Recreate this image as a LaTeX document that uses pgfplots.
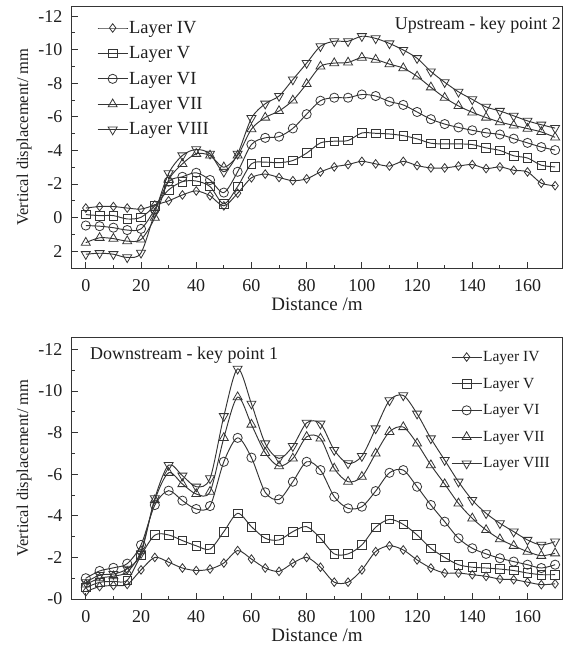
\documentclass[border=0pt]{standalone}
\usepackage{fontspec}
\setmainfont{Liberation Serif}
\usepackage{pgfplots}
\pgfplotsset{compat=1.18}
\definecolor{ln}{HTML}{353535}
\definecolor{tx}{HTML}{1E1E1E}

\pgfplotsset{
  myax/.style={
    scale only axis, width=490pt, height=262pt,
    xmin=-5, xmax=172.5,
    xtick={0,20,...,160}, minor x tick num=1,
    tick pos=left, tick align=inside,
    major tick length=6pt, minor tick length=3pt,
    every tick/.style={ln, line width=0.9pt},
    axis line style={ln, line width=1pt},
    /pgf/number format/assume math mode=true,
    tick label style={font=\fontsize{18}{20}\selectfont, text=tx},
    xticklabel style={yshift=-8pt},
    yticklabel style={xshift=-6pt},
    xlabel style={font=\fontsize{19}{21}\selectfont, text=tx, yshift=1pt},
    ylabel style={font=\fontsize{16.5}{19}\selectfont, text=tx},
    xlabel={Distance /m},
    ylabel={Vertical displacement/ mm},
    y dir=reverse,
    legend cell align=left,
    legend image code/.code={\draw[mark repeat=2,mark phase=2] plot coordinates {(0pt,0pt) (15pt,0pt) (30pt,0pt)};},
    every axis plot/.append style={ln, line width=0.95pt, smooth, tension=0.5},
  },
  mIV/.style={mark=diamond, mark size=4.3pt, mark options={solid, line width=0.8pt}},
  mV/.style={mark=square, mark size=4.3pt, mark options={solid, line width=0.8pt}},
  mVI/.style={mark=o, mark size=4.6pt, mark options={solid, line width=0.8pt}},
  mVII/.style={mark=triangle, mark size=5.2pt, mark options={solid, line width=0.8pt}},
  mVIII/.style={mark=triangle, mark size=5.2pt, mark options={solid, line width=0.8pt, rotate=180}},
}

\begin{document}
\begin{tikzpicture}
\path[use as bounding box] (-72pt,6pt) rectangle (496pt,-646pt);

% ---------------- Upstream (top)
\begin{axis}[myax, at={(0pt,0pt)}, anchor=north west,
  ymin=-12.6, ymax=3,
  ytick={-12,-10,-8,-6,-4,-2,0,2},
  yticklabels={-12,-10,-8,-6,-4,-2,0,2},
  minor y tick num=1,
  legend style={draw=none, fill=none, font=\fontsize{18.5}{20}\selectfont, text=tx,
      inner xsep=0pt, inner ysep=0pt, row sep=9.8pt, nodes={inner sep=1pt},
      at={(rel axis cs:0,1)}, anchor=north west, xshift=25pt, yshift=-14pt},
]
\addplot[mIV] coordinates {(0,-0.57)(5,-0.66)(10,-0.66)(15,-0.57)(20,-0.51)(25,-0.75)(30,-1.0)(35,-1.35)(40,-1.59)(45,-1.3)(50,-0.7)(55,-1.45)(60,-2.37)(65,-2.59)(70,-2.39)(75,-2.2)(80,-2.31)(85,-2.72)(90,-3.02)(95,-3.16)(100,-3.35)(105,-3.2)(110,-3.07)(115,-3.35)(120,-3.1)(125,-2.96)(130,-2.96)(135,-3.07)(140,-3.16)(145,-2.92)(150,-3.02)(155,-2.82)(160,-2.72)(165,-2.05)(170,-1.9)};
\addlegendentry{Layer IV}
\addplot[mV] coordinates {(0,-0.18)(5,-0.12)(10,-0.12)(15,0.08)(20,-0.02)(25,-0.7)(30,-1.65)(35,-2.14)(40,-2.18)(45,-1.85)(50,-0.82)(55,-1.85)(60,-3.2)(65,-3.3)(70,-3.27)(75,-3.4)(80,-3.84)(85,-4.45)(90,-4.55)(95,-4.59)(100,-5.04)(105,-5.02)(110,-4.98)(115,-4.88)(120,-4.69)(125,-4.43)(130,-4.39)(135,-4.39)(140,-4.35)(145,-4.15)(150,-4.0)(155,-3.68)(160,-3.55)(165,-3.12)(170,-3.02)};
\addlegendentry{Layer V}
\addplot[mVI] coordinates {(0,0.47)(5,0.51)(10,0.6)(15,0.74)(20,0.67)(25,-0.5)(30,-2.14)(35,-2.43)(40,-2.67)(45,-2.24)(50,-1.49)(55,-2.73)(60,-4.35)(65,-4.75)(70,-4.82)(75,-5.31)(80,-6.16)(85,-6.96)(90,-7.14)(95,-7.14)(100,-7.33)(105,-7.24)(110,-6.91)(115,-6.71)(120,-6.29)(125,-5.86)(130,-5.57)(135,-5.37)(140,-5.2)(145,-5.05)(150,-4.95)(155,-4.7)(160,-4.45)(165,-4.2)(170,-4.02)};
\addlegendentry{Layer VI}
\addplot[mVII] coordinates {(0,1.49)(5,1.2)(10,1.25)(15,1.4)(20,1.3)(25,0.0)(30,-2.24)(35,-3.2)(40,-3.8)(45,-3.7)(50,-3.0)(55,-3.7)(60,-5.27)(65,-5.96)(70,-6.35)(75,-6.98)(80,-7.96)(85,-9.0)(90,-9.2)(95,-9.24)(100,-9.53)(105,-9.41)(110,-9.14)(115,-8.9)(120,-8.41)(125,-7.76)(130,-7.14)(135,-6.65)(140,-6.27)(145,-5.96)(150,-5.69)(155,-5.49)(160,-5.3)(165,-5.1)(170,-4.78)};
\addlegendentry{Layer VII}
\addplot[mVIII] coordinates {(0,2.18)(5,2.12)(10,2.18)(15,2.37)(20,2.1)(25,-0.3)(30,-2.63)(35,-3.7)(40,-4.06)(45,-3.8)(50,-2.73)(55,-3.8)(60,-5.92)(65,-6.78)(70,-7.24)(75,-8.22)(80,-9.2)(85,-10.2)(90,-10.5)(95,-10.5)(100,-10.8)(105,-10.67)(110,-10.37)(115,-9.98)(120,-9.49)(125,-8.7)(130,-8.06)(135,-7.49)(140,-7.04)(145,-6.59)(150,-6.35)(155,-6.06)(160,-5.76)(165,-5.53)(170,-5.33)};
\addlegendentry{Layer VIII}
\node[anchor=east, inner sep=0pt, font=\fontsize{18}{20}\selectfont, text=tx] at (rel axis cs:1,1) [xshift=-1pt, yshift=-19pt] {Upstream - key point 2};
\end{axis}

% ---------------- Downstream (bottom)
\begin{axis}[myax, at={(0pt,-331pt)}, anchor=north west,
  ymin=-12.6, ymax=0,
  ytick={-12,-10,-8,-6,-4,-2,0},
  yticklabels={-12,-10,-8,-6,-4,-2,-0},
  minor y tick num=1,
  legend style={draw=none, fill=none, font=\fontsize{15.5}{17}\selectfont, text=tx,
      inner xsep=0pt, inner ysep=0pt, row sep=13pt, nodes={inner sep=1pt},
      at={(rel axis cs:1,1)}, anchor=north east, xshift=-11pt, yshift=-13pt},
]
\addplot[mIV] coordinates {(0,-0.35)(5,-0.6)(10,-0.65)(15,-0.7)(20,-1.4)(25,-2.0)(30,-1.77)(35,-1.49)(40,-1.37)(45,-1.44)(50,-1.73)(55,-2.33)(60,-1.92)(65,-1.49)(70,-1.33)(75,-1.73)(80,-2.0)(85,-1.53)(90,-0.81)(95,-0.81)(100,-1.4)(105,-2.28)(110,-2.56)(115,-2.36)(120,-1.88)(125,-1.49)(130,-1.25)(135,-1.25)(140,-1.17)(145,-1.09)(150,-0.96)(155,-0.93)(160,-0.81)(165,-0.69)(170,-0.73)};
\addlegendentry{Layer IV}
\addplot[mV] coordinates {(0,-0.55)(5,-0.8)(10,-0.85)(15,-0.9)(20,-2.1)(25,-3.07)(30,-3.08)(35,-2.81)(40,-2.56)(45,-2.4)(50,-3.24)(55,-4.12)(60,-3.48)(65,-2.92)(70,-2.84)(75,-3.24)(80,-3.48)(85,-2.92)(90,-2.17)(95,-2.17)(100,-2.6)(105,-3.45)(110,-3.83)(115,-3.59)(120,-3.08)(125,-2.44)(130,-2.0)(135,-1.65)(140,-1.53)(145,-1.49)(150,-1.44)(155,-1.37)(160,-1.25)(165,-1.17)(170,-1.17)};
\addlegendentry{Layer V}
\addplot[mVI] coordinates {(0,-1.0)(5,-1.35)(10,-1.5)(15,-1.7)(20,-2.6)(25,-4.52)(30,-5.21)(35,-4.73)(40,-4.33)(45,-4.47)(50,-6.6)(55,-7.75)(60,-6.8)(65,-5.13)(70,-4.79)(75,-5.64)(80,-6.6)(85,-6.2)(90,-4.92)(95,-4.36)(100,-4.44)(105,-5.19)(110,-6.07)(115,-6.2)(120,-5.4)(125,-4.52)(130,-3.72)(135,-2.92)(140,-2.44)(145,-2.17)(150,-1.96)(155,-1.8)(160,-1.65)(165,-1.49)(170,-1.65)};
\addlegendentry{Layer VI}
\addplot[mVII] coordinates {(0,-0.7)(5,-1.0)(10,-1.1)(15,-1.3)(20,-2.3)(25,-4.76)(30,-6.07)(35,-5.53)(40,-5.05)(45,-5.16)(50,-7.75)(55,-9.71)(60,-8.39)(65,-7.03)(70,-6.39)(75,-6.76)(80,-7.8)(85,-7.72)(90,-6.28)(95,-5.64)(100,-5.88)(105,-7.0)(110,-8.04)(115,-8.27)(120,-7.48)(125,-6.44)(130,-5.53)(135,-4.6)(140,-3.88)(145,-3.32)(150,-2.88)(155,-2.56)(160,-2.28)(165,-2.08)(170,-2.2)};
\addlegendentry{Layer VII}
\addplot[mVIII] coordinates {(0,-0.8)(5,-1.15)(10,-1.2)(15,-1.45)(20,-2.2)(25,-4.84)(30,-6.44)(35,-5.93)(40,-5.4)(45,-5.8)(50,-8.79)(55,-11.07)(60,-9.39)(65,-7.48)(70,-6.76)(75,-7.35)(80,-8.47)(85,-8.43)(90,-7.16)(95,-6.52)(100,-6.87)(105,-8.2)(110,-9.55)(115,-9.79)(120,-8.91)(125,-7.72)(130,-6.68)(135,-5.64)(140,-4.76)(145,-4.12)(150,-3.64)(155,-3.24)(160,-2.84)(165,-2.6)(170,-2.76)};
\addlegendentry{Layer VIII}
\node[anchor=west, inner sep=0pt, font=\fontsize{18}{20}\selectfont, text=tx] at (rel axis cs:0,1) [xshift=18pt, yshift=-18pt] {Downstream - key point 1};
\end{axis}
\end{tikzpicture}
\end{document}
